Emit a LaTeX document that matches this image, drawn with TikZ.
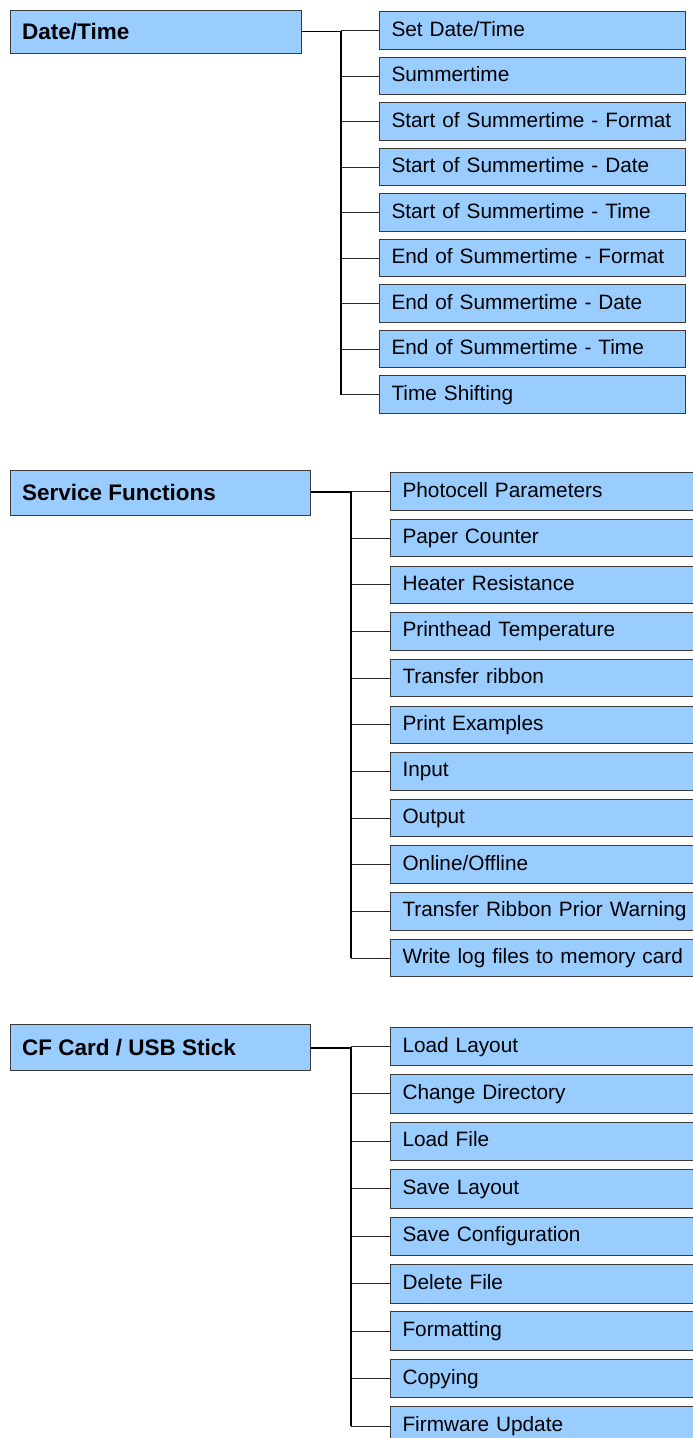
\documentclass[tikz,border=0pt]{standalone}
\usepackage{fontspec}
\setmainfont{Liberation Sans}
\begin{document}
\begin{tikzpicture}[x=1pt,y=-1pt,
  parentbox/.style={draw=boxline, fill=boxfill, line width=1pt, inner sep=0pt, anchor=north west},
  parenttext/.style={anchor=west, font=\fontsize{22.5}{26}\selectfont\bfseries, inner sep=0pt},
  childbox/.style={draw=boxline, fill=boxfill, line width=1pt, inner ysep=0pt, inner xsep=12pt, anchor=west,
    minimum height=37.5pt, font=\fontsize{20.8}{24}\selectfont, align=left, text height=15pt, text depth=4pt},
  trunk/.style={draw=black, line width=1.8pt},
  branch/.style={draw=branchcol, line width=1pt}]
\definecolor{boxfill}{HTML}{99CCFF}
\definecolor{boxline}{HTML}{3A3A3A}
\definecolor{branchcol}{HTML}{2A2A2A}
\useasboundingbox (0,0) rectangle (693,1438);
\clip (0,0) rectangle (693,1438);
\fill[white] (0,0) rectangle (693,1438);

% ---------- Section 1 ----------
\node[parentbox, minimum width=291pt, minimum height=43pt] (p1) at (10,10) {};
\node[parenttext] (p1t) at (22,31.5) {Date/Time};
\coordinate (j1) at (341,31.5);
\coordinate (b1) at (341,395);
\foreach \t [count=\i from 0] in {Set Date/Time,Summertime,Start of Summertime - Format,Start of Summertime - Date,Start of Summertime - Time,End of Summertime - Format,End of Summertime - Date,End of Summertime - Time,Time Shifting}{
  \node[childbox, minimum width=306pt, text width=282pt] (a\i) at (379,{30.7+45.5*\i}) {\mbox{\t}};
  \draw[branch] (341,{30.7+45.5*\i}) -- (a\i.west);
}
\draw[trunk] (p1.east |- j1) -- (j1) -- (b1);

% ---------- Section 2 ----------
\node[parentbox, minimum width=300pt, minimum height=45pt] (p2) at (10,470) {};
\node[parenttext] (p2t) at (22,492.5) {Service Functions};
\coordinate (j2) at (351,492);
\coordinate (b2) at (351,958);
\foreach \t [count=\i from 0] in {Photocell Parameters,Paper Counter,Heater Resistance,Printhead Temperature,Transfer ribbon,Print Examples,Input,Output,Online/Offline,Transfer Ribbon Prior Warning,Write log files to memory card}{
  \node[childbox, minimum width=305pt, text width=281pt, inner xsep=11pt] (c\i) at (390,{491.5+46.65*\i}) {\mbox{\t}};
  \draw[branch] (351,{491.5+46.65*\i}) -- (c\i.west);
}
\draw[trunk] (p2.east |- j2) -- (j2) -- (b2);

% ---------- Section 3 ----------
\node[parentbox, minimum width=300pt, minimum height=46pt] (p3) at (10,1024) {};
\node[parenttext] (p3t) at (22,1047.5) {CF Card / USB Stick};
\coordinate (j3) at (351,1048);
\coordinate (b3) at (351,1426);
\foreach \t [count=\i from 0] in {Load Layout,Change Directory,Load File,Save Layout,Save Configuration,Delete File,Formatting,Copying,Firmware Update}{
  \node[childbox, minimum width=305pt, minimum height=38.5pt, text width=281pt, inner xsep=11pt] (d\i) at (390,{1046.5+47.45*\i}) {\mbox{\t}};
  \draw[branch] (351,{1046.5+47.45*\i}) -- (d\i.west);
}
\draw[trunk] (p3.east |- j3) -- (j3) -- (b3);
\end{tikzpicture}
\end{document}
